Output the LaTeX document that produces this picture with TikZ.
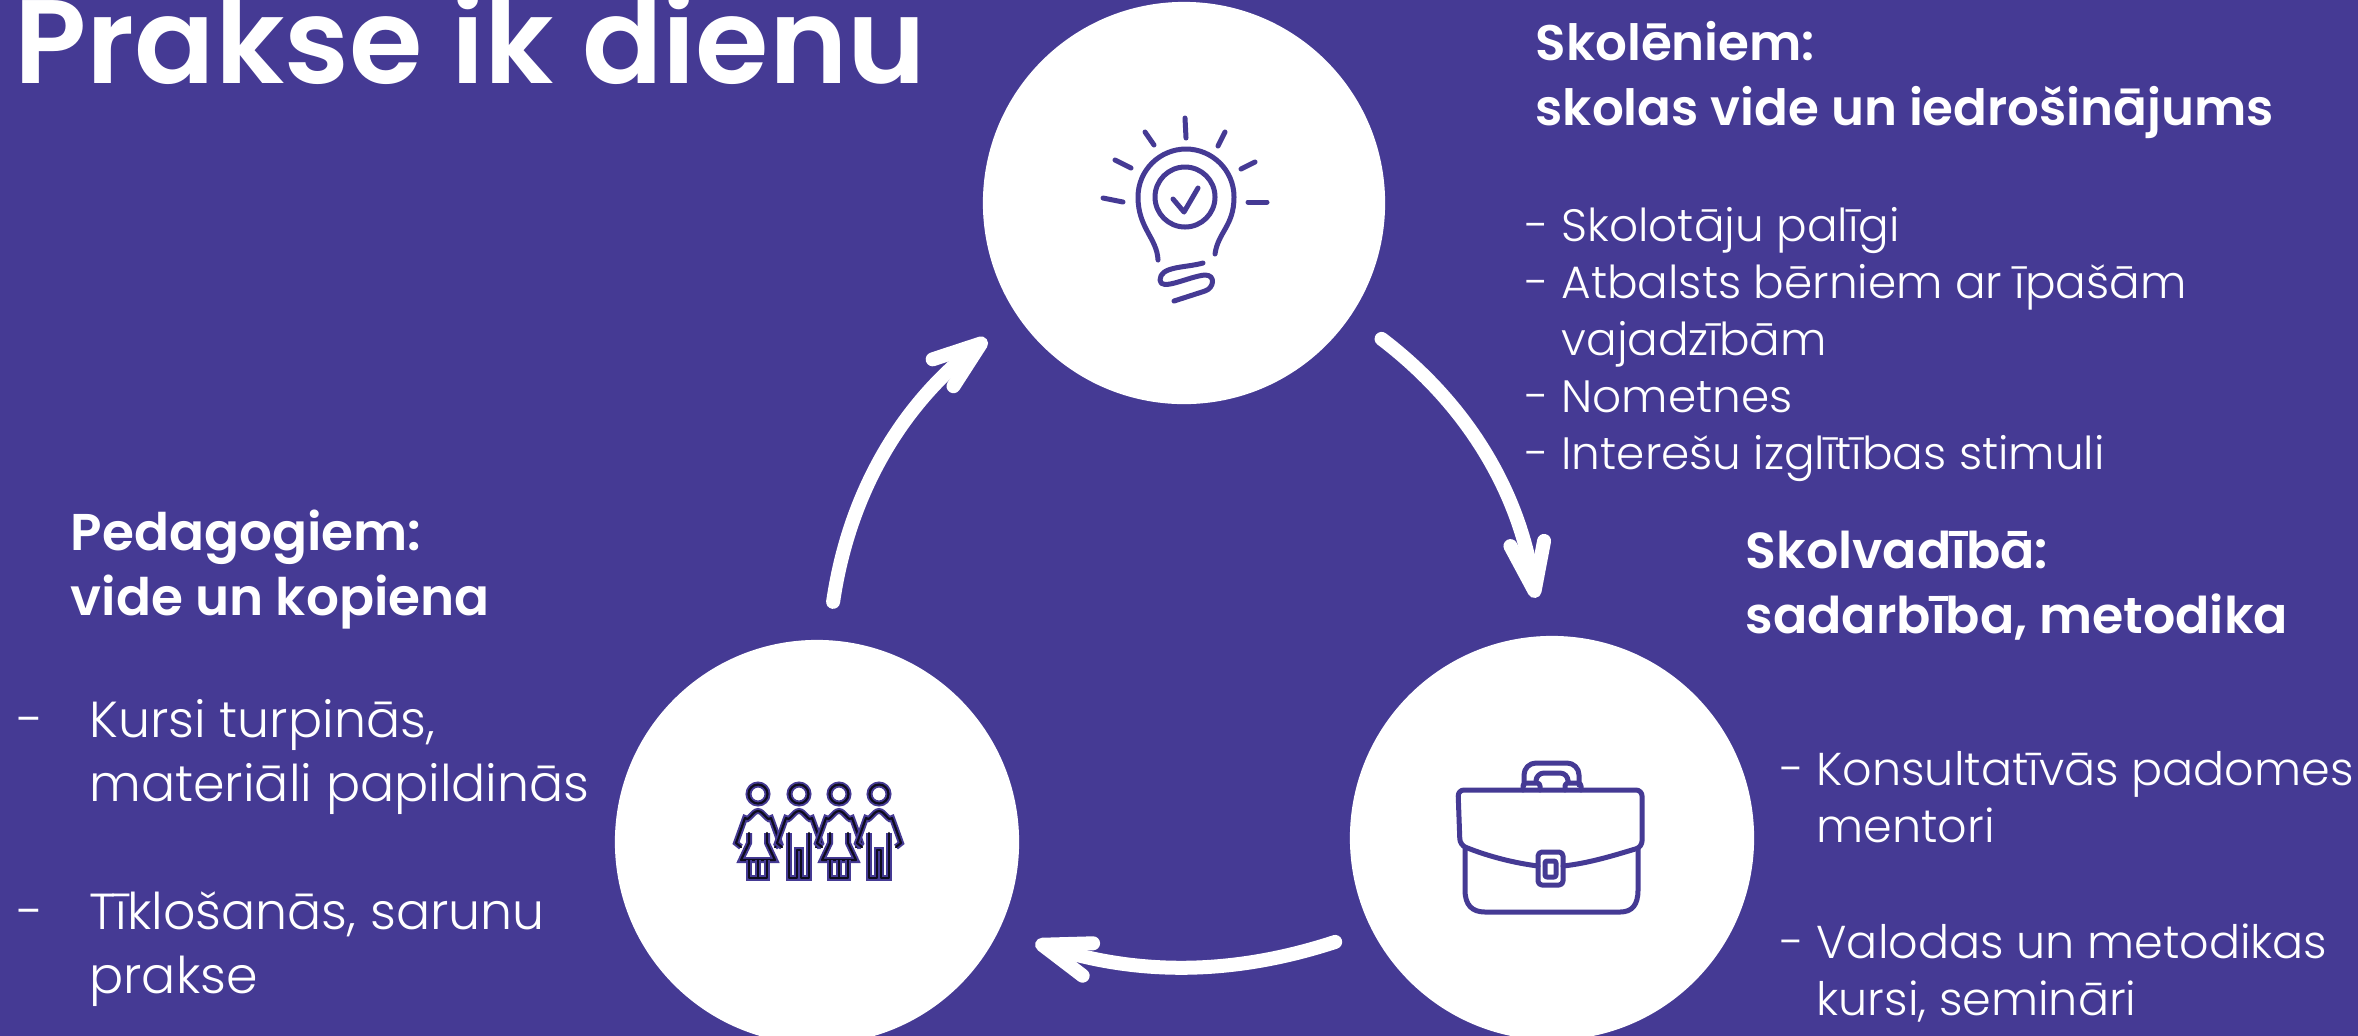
\documentclass[tikz,border=0pt]{standalone}
\usepackage{fontspec}
\setmainfont{Poppins}[UprightFont=* Light,BoldFont=* SemiBold]
\usetikzlibrary{arrows.meta}
\definecolor{bgviolet}{HTML}{453A94}
\tikzset{
  x=0.01cm, y=-0.01cm,
  disc/.style={circle, fill=white, minimum size=4.04cm, inner sep=0pt},
  headline/.style={anchor=base west, text=white, font=\bfseries\fontsize{14.4}{18.4}\selectfont, align=left, inner sep=0pt},
  itemlist/.style={anchor=base west, text=white, align=left, inner sep=0pt},
  cyclearrow/.style={draw=white, line width=0.14cm, line cap=round, shorten <=0.38cm, shorten >=0.38cm,
    -{Straight Barb[round, length=0.48cm, width=0.34cm]}},
  icon/.style={draw=bgviolet, line width=0.05cm, line cap=round, line join=round},
  figure/.style={draw=black!80!bgviolet, line width=0.022cm, line cap=round, line join=round,
    preaction={draw=bgviolet, line width=0.06cm}},
  woman/.pic={
    \draw[figure] (0,0) circle (9.5);
    \draw[figure] (-17,53) -- (-22,49) -- (-13,24) to[out=-60,in=180] (0,17) to[out=0,in=-120] (13,24) -- (22,49) -- (17,53);
    \draw[figure] (-9,39) -- (-9,49) -- (-17,66) -- (17,66) -- (9,49) -- (9,39);
    \draw[figure] (-9,66) -- (-9,84) -- (9,84) -- (9,66) (0,66) -- (0,84);
  },
  man/.pic={
    \draw[figure] (0,0) circle (9.5);
    \draw[figure] (-17,53) -- (-22,49) -- (-13,24) to[out=-60,in=180] (0,17) to[out=0,in=-120] (13,24) -- (22,49) -- (17,53);
    \draw[figure] (-10,39) -- (-10,84) -- (-2,84) -- (-2,56) -- (2,56) -- (2,84) -- (10,84) -- (10,39);
  }
}
\newcommand{\dashitem}[1]{\makebox[#1][l]{-}}
\begin{document}
\begin{tikzpicture}
  \useasboundingbox (0,0) rectangle (2358,1035);
  \fill[bgviolet] (-10,-10) rectangle (2368,1045);

  % Title
  \node[anchor=base west, text=white, inner sep=0pt, font=\bfseries\fontsize{33.8}{40}\selectfont] (title) at (14,83) {Prakse ik dienu};

  % Circles
  \node[disc, minimum size=4.02cm] (top) at (1184,203) {};
  \node[disc] (left) at (817,842) {};
  \node[disc] (right) at (1552,838) {};

  % Arrows
  \draw[cyclearrow] (left.87) to[bend left=22] (top.214);
  \draw[cyclearrow] (top.-34) to[bend left=22] (right.93);
  \draw[cyclearrow] (right.207) to[bend left=18] (left.-26);

  % Lamp
  \foreach \xa/\ya/\xb/\yb in {1185/118/1186/138, 1145/132/1154/145, 1225/132/1218/146, 1115/160/1131/168,
    1255/162/1241/169, 1103/198/1123/202, 1248/202/1267/202}
    \draw[icon] (\xa,\ya) -- (\xb,\yb);
  \draw[icon] (1158,260) .. controls (1157,238) and (1138,228) .. (1138,197)
    .. controls (1138,170) and (1160,149) .. (1186,149)
    .. controls (1212,149) and (1234,170) .. (1234,197)
    .. controls (1234,226) and (1218,232) .. (1215,254);
  \draw[icon] (1185,197) circle (30);
  \draw[icon] (1173,199) -- (1184,212) -- (1198,188);
  \draw[icon] (1203,263) .. controls (1185,268) and (1160,266) .. (1160,280)
    .. controls (1160,292) and (1190,276) .. (1205,275)
    .. controls (1216,275) and (1214,288) .. (1205,291) -- (1174,301);

  % Case
  \draw[icon] (1465,848) -- (1465,890) .. controls (1465,905) and (1472,912) .. (1485,912) -- (1620,912)
    .. controls (1632,912) and (1638,905) .. (1638,890) -- (1638,848);
  \draw[icon, rounded corners=0.06cm] (1538,866) .. controls (1515,863) and (1490,857) .. (1460,845)
    -- (1458,790) -- (1642,790) -- (1642,847) .. controls (1615,855) and (1590,863) .. (1563,866);
  \draw[icon, rounded corners=0.04cm] (1538,852) rectangle (1563,885);
  \draw[icon, rounded corners=0.02cm] (1545,861) rectangle (1556,877);
  \draw[icon, rounded corners=0.12cm] (1524,785) -- (1524,763) -- (1579,763) -- (1579,785);
  \draw[icon, rounded corners=0.08cm] (1536,780) -- (1536,773) -- (1568,773) -- (1568,780);
  \draw[icon, rounded corners=0.03cm] (1523,790) -- (1523,783) -- (1540,783) -- (1540,790);
  \draw[icon, rounded corners=0.03cm] (1565,790) -- (1565,783) -- (1581,783) -- (1581,790);

  % People
  \pic at (758,794) {woman};
  \pic at (799,794) {man};
  \pic at (839,794) {woman};
  \pic at (879,794) {man};

  % Texts
  \node[headline, font=\bfseries\fontsize{14.2}{18.4}\selectfont] (pupilshead) at (1535,125) {Skolēniem:\\skolas vide un iedrošinājums};
  \node[itemlist, font=\fontsize{12.9}{16.16}\selectfont] (pupilslist) at (1525,469) {\dashitem{10.2pt}Skolotāju palīgi\\\dashitem{10.2pt}Atbalsts bērniem ar īpašām\\\hspace*{10.2pt}vajadzībām\\\dashitem{10.2pt}Nometnes\\\dashitem{10.2pt}Interešu izglītības stimuli};
  \node[headline] (headshead) at (1745,633) {Skolvadībā:\\sadarbība, metodika};
  \node[itemlist, font=\fontsize{13.1}{16.16}\selectfont] (headslist) at (1780,1015) {\dashitem{10.2pt}Konsultatīvās padomes\\\hspace*{10.2pt}mentori\\[16.7pt]\dashitem{10.2pt}Valodas un metodikas\\\hspace*{10.2pt}kursi, semināri};
  \node[headline, font=\bfseries\fontsize{14.7}{18.4}\selectfont] (teachershead) at (70,615) {Pedagogiem:\\vide un kopiena};
  \node[itemlist, font=\fontsize{14.4}{18.2}\selectfont] (teacherslist) at (17,993) {\dashitem{20.4pt}Kursi turpinās,\\\hspace*{20.4pt}materiāli papildinās\\[18pt]\dashitem{20.4pt}Tīklošanās, sarunu\\\hspace*{20.4pt}prakse};
\end{tikzpicture}
\end{document}
